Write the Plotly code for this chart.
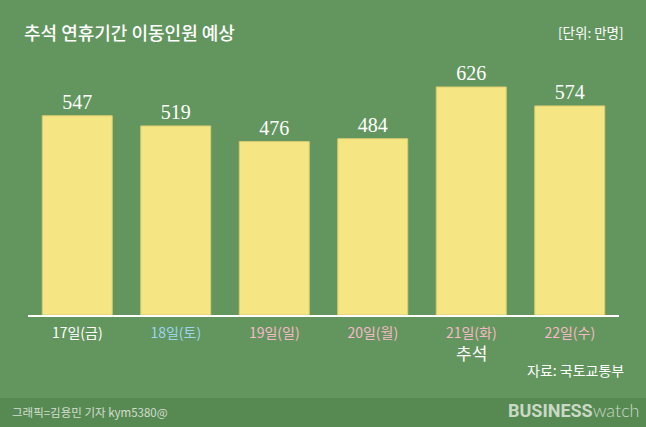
import plotly.graph_objects as go

categories = ["17일(금)", "18일(토)", "19일(일)", "20일(월)", "21일(화)", "22일(수)"]
label_colors = ["#FFFFFF", "#9FD4EE", "#F7B9C9", "#F7B9C9", "#F7B9C9", "#F7B9C9"]
values = [547, 519, 476, 484, 626, 574]
sub_labels = ["", "", "", "", "추석", ""]

BG = "#62965E"
FONT = "Noto Sans CJK KR"

ticktext = [f"<span style='color:{col}'>{c}</span>" for c, col in zip(categories, label_colors)]

fig = go.Figure()
fig.add_trace(go.Bar(
    x=categories, y=values,
    marker=dict(color="#F5E683", line=dict(color="#D9CC70", width=1)),
    text=[str(v) for v in values], textposition="outside",
    textfont=dict(family="Liberation Serif", size=20, color="#FFFFFF"),
    cliponaxis=False, width=0.71,
))

annotations = [
    dict(text="추석 연휴기간 이동인원 예상", xref="paper", yref="paper",
         x=-6/591, y=(315-32)/255, xanchor="left", yanchor="middle", showarrow=False,
         font=dict(family=FONT, size=18, color="#FFFFFF", weight=500)),
    dict(text="[단위: 만명]", xref="paper", yref="paper",
         x=(626-28)/591, y=(315-32)/255, xanchor="right", yanchor="middle", showarrow=False,
         font=dict(family=FONT, size=13.5, color="#FFFFFF")),
    dict(text="자료: 국토교통부", xref="paper", yref="paper",
         x=(626-28)/591, y=(315-370)/255, xanchor="right", yanchor="middle", showarrow=False,
         font=dict(family=FONT, size=14, color="#FFFFFF")),
    dict(text="그래픽=김용민 기자 kym5380@", xref="paper", yref="paper",
         x=(10-28)/591, y=(315-412)/255, xanchor="left", yanchor="middle", showarrow=False,
         font=dict(family=FONT, size=11.5, color="#D3DDCF")),
    dict(text="<b>BUSINESS</b><span style='font-weight:300;font-family:Lato'>watch</span>",
         xref="paper", yref="paper",
         x=(642-28)/591, y=(315-410)/255, xanchor="right", yanchor="middle", showarrow=False,
         font=dict(family="Roboto", size=18, color="#C9D9C5")),
]
for c, s in zip(categories, sub_labels):
    if s:
        annotations.append(dict(text=s, x=c, xref="x", yref="paper", y=(315-352)/255,
                                xanchor="center", yanchor="middle", showarrow=False,
                                font=dict(family=FONT, size=17, color="#FFFFFF")))

fig.update_layout(
    width=646, height=427,
    margin=dict(l=28, r=27, t=60, b=112),
    paper_bgcolor=BG, plot_bgcolor=BG,
    showlegend=False,
    xaxis=dict(tickmode="array", tickvals=categories, ticktext=ticktext,
               tickfont=dict(family=FONT, size=14), showgrid=False,
               showline=True, linecolor="#FFFFFF", linewidth=1.5,
               ticks="", zeroline=False, ticklabelstandoff=4),
    yaxis=dict(range=[0, 700], visible=False, showgrid=False),
    shapes=[dict(type="rect", xref="paper", yref="paper", x0=-0.1, x1=1.1,
                 y0=-112/255, y1=-83/255, fillcolor="#578A53", line=dict(width=0),
                 layer="below")],
    annotations=annotations,
)

fig.write_html("out.html")
